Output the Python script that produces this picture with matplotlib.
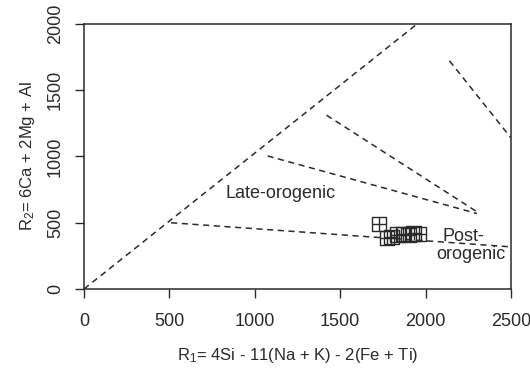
import matplotlib
matplotlib.use('Agg')
import matplotlib.pyplot as plt

plt.rcParams['font.family'] = ['Liberation Sans', 'DejaVu Sans']
plt.rcParams['mathtext.fontset'] = 'custom'
plt.rcParams['mathtext.rm'] = 'Liberation Sans'
plt.rcParams['mathtext.default'] = 'regular'

# Field boundary lines (R1, R2 end points)
boundary_lines = [
    ([0, 1950], [0, 2000]),
    ([510, 2500], [500, 318]),
    ([1075, 2300], [1004, 570]),
    ([1420, 2310], [1312, 575]),
    ([2140, 2500], [1722, 1140]),
]

# Samples
r1 = [1727, 1775, 1800, 1835, 1868, 1900, 1930, 1960]
r2 = [490, 385, 392, 410, 415, 408, 420, 415]

xticks = [0, 500, 1000, 1500, 2000, 2500]
yticks = [0, 500, 1000, 1500, 2000]

ink = '#2a2a2a'

fig = plt.figure(figsize=(5.3, 3.69), dpi=100)
ax = fig.add_axes([84 / 530, 80 / 369, 427 / 530, 265 / 369])

for xs, ys in boundary_lines:
    ax.plot(xs, ys, color=ink, linewidth=1.1, linestyle=(0, (4, 3)))

ax.scatter(r1, r2, marker='s', s=110, facecolors='none', edgecolors=ink, linewidths=1.0, zorder=3)
ax.scatter(r1, r2, marker='+', s=110, color=ink, linewidths=1.0, zorder=3)

ax.text(1150, 720, 'Late-orogenic', fontsize=13, color=ink, ha='center', va='center')
ax.text(2220, 395, 'Post-', fontsize=13, color=ink, ha='center', va='center')
ax.text(2265, 262, 'orogenic', fontsize=13, color=ink, ha='center', va='center')

ax.set_xlim(0, 2500)
ax.set_ylim(0, 2000)
ax.set_xticks(xticks)
ax.set_yticks(yticks)
ax.set_yticklabels([str(v) for v in yticks], rotation=90, va='center')
ax.tick_params(axis='both', length=6.5, width=1, color=ink, labelcolor=ink, labelsize=13)
ax.tick_params(axis='x', pad=11)
ax.tick_params(axis='y', pad=8)

for s in ax.spines.values():
    s.set_color(ink)
    s.set_linewidth(1.1)

ax.set_xlabel('R$_1$= 4Si - 11(Na + K) - 2(Fe + Ti)', fontsize=12, color=ink, labelpad=11)
ax.set_ylabel('R$_2$= 6Ca + 2Mg + Al', fontsize=12, color=ink, labelpad=7)

fig.savefig('out.png', dpi=100)
